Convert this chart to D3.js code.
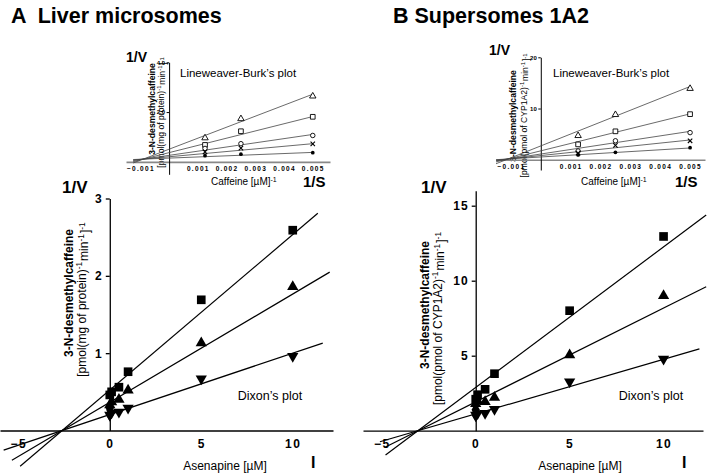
<!DOCTYPE html>
<html><head><meta charset="utf-8">
<script src="https://cdn.jsdelivr.net/npm/d3@7"></script>
<style>
body{margin:0;background:#fff;}
svg{display:block;font-family:"Liberation Sans",Arial,sans-serif;}
</style></head><body>
<svg id="c" width="709" height="476"></svg>
<script>
// ---------- DATA ----------
const panelTitles = ["A  Liver microsomes", "B Supersomes 1A2"];
// Dixon plot (main) : asenapine concentrations
const dixonX = [0, 0.1, 0.5, 1, 5, 10];
const dixonA_square = [0.46, 0.50, 0.56, 0.76, 1.69, 2.59];
const dixonA_triangle = [0.33, 0.37, 0.40, 0.52, 1.13, 1.86];
const dixonA_down = [0.20, 0.23, 0.24, 0.29, 0.67, 0.96];
const dixonA_diamondX = [0, 0];
const dixonA_diamond = [0.29, 0.21];
const dixonB_square = [2.1, 2.4, 2.76, 3.8, 8.0, 12.95];
const dixonB_triangle = [1.8, 2.0, 1.93, 2.22, 5.05, 9.0];
const dixonB_down = [1.05, 1.15, 1.16, 1.43, 3.27, 4.78];
const dixonB_diamondX = [0, 0];
const dixonB_diamond = [1.4, 1.05];
// fitted Dixon lines: [slope, intercept, xStart, xEnd] for square, triangle, down-triangle
const dixonA_lines = [[0.201, 0.523, -4.9, 11.37], [0.140, 0.365, -5.35, 12.02], [0.0794, 0.206, -5.8, 11.64]];
const dixonB_lines = [[0.9375, 2.88, -4.8, 12.27], [0.626, 1.92, -4.8, 12.27], [0.364, 1.12, -5.1, 11.91]];
const dixonXTicks = [-5, 0, 5, 10];
const dixonA_YTicks = [1, 2, 3];
const dixonB_YTicks = [5, 10, 15];

// Lineweaver-Burk (insets) : 1/[caffeine]
const lbX = [0.00125, 0.0025, 0.005];
const lbA_triangle = [0.96, 1.73, 2.64];
const lbA_square = [0.68, 1.23, 1.81];
const lbA_circle = [0.54, 0.73, 1.06];
const lbA_cross = [0.40, 0.55, 0.72];
const lbA_dot = [0.25, 0.31, 0.37];
const lbB_triangle = [4.7, 8.8, 13.9];
const lbB_square = [3.0, 5.55, 8.9];
const lbB_circle = [1.7, 3.7, 5.3];
const lbB_cross = [1.3, 2.8, 3.7];
const lbB_dot = [0.95, 1.45, 2.35];
// fitted LB lines: [slope, intercept] in order triangle, square, circle, cross, dot
const lbA_lines = [[442, 0.508], [290, 0.371], [168, 0.261], [105, 0.205], [45.8, 0.151]];
const lbB_lines = [[2320, 2.70], [1444, 1.74], [885, 1.12], [608, 0.82], [352, 0.54]];
const lbA_lineRange = [-0.00125, 0.005];
const lbB_lineRange = [-0.0015, 0.005];
const lbXTicks = [-0.001, 0.001, 0.002, 0.003, 0.004, 0.005];
const lbA_YTicks = [2, 4];
const lbB_YTicks = [10, 20];

// ---------- DRAW ----------
const svg = d3.select("#c");

function supText(sel, parts){
  parts.forEach(p=>{
    if(p[1]){
      sel.append("tspan").attr("dy","-0.45em").attr("font-size","0.7em").text(p[0]);
      sel.append("tspan").attr("dy","0.45em").attr("font-size","1em").text("\u200a");
    } else sel.append("tspan").text(p[0]);
  });
}

svg.append("text").attr("x",11).attr("y",23).attr("font-size",21.5).attr("font-weight","bold").style("white-space","pre").text(panelTitles[0]);
svg.append("text").attr("x",393).attr("y",23).attr("font-size",21.5).attr("font-weight","bold").text(panelTitles[1]);

function sym(g, type, x, y, size, filled){
  const map = {square:d3.symbolSquare, triangle:d3.symbolTriangle, down:d3.symbolTriangle, diamond:d3.symbolDiamond, circle:d3.symbolCircle};
  if(type==="cross"){
    const h=size;
    g.append("path").attr("d",`M${x-h},${y-h}L${x+h},${y+h}M${x-h},${y+h}L${x+h},${y-h}`).attr("stroke","#000").attr("stroke-width",1.1).attr("fill","none");
    return;
  }
  const p = g.append("path").attr("d", d3.symbol(map[type], size)())
    .attr("transform", `translate(${x},${y})` + (type==="down"?" rotate(180)":""));
  if(filled) p.attr("fill","#000");
  else p.attr("fill","#fff").attr("stroke","#000").attr("stroke-width",0.9);
}

function dixon(cfg){
  const g = svg.append("g");
  const x = d3.scaleLinear().domain([-6, cfg.xMax]).range(cfg.xr);
  const y = d3.scaleLinear().domain([0, cfg.yTop]).range(cfg.yr);
  // x axis
  const xa = g.append("g").attr("transform",`translate(0,${y(0)})`)
    .call(d3.axisBottom(x).tickValues(dixonXTicks).tickSize(0).tickPadding(9).tickSizeOuter(0).tickFormat(d3.format("d")));
  xa.select(".domain").attr("stroke-width",1.3);
  xa.selectAll("text").attr("font-size",12).attr("font-weight","bold").attr("letter-spacing",1.5).attr("font-family","Liberation Sans, Arial");
  // y axis
  const ya = g.append("g").attr("transform",`translate(${x(0)},0)`)
    .call(d3.axisLeft(y).tickValues(cfg.yTicks).tickSize(4).tickPadding(3).tickSizeOuter(0).tickFormat(d3.format("d")));
  ya.select(".domain").attr("stroke-width",1.3);
  ya.selectAll("line").attr("stroke-width",1.3);
  ya.selectAll("text").attr("font-size",12).attr("font-weight","bold").attr("letter-spacing",1).attr("font-family","Liberation Sans, Arial");
  // lines
  cfg.lines.forEach(l=>{
    g.append("line").attr("x1",x(l[2])).attr("y1",y(l[0]*l[2]+l[1]))
      .attr("x2",x(l[3])).attr("y2",y(l[0]*l[3]+l[1])).attr("stroke","#000").attr("stroke-width",1.2);
  });
  // points
  cfg.series.forEach(s=>{
    s.ys.forEach((v,i)=> sym(g, s.type, x(s.xs[i]), y(v), s.size, true));
  });
  // labels
  g.append("text").attr("x",cfg.vLab[0]).attr("y",cfg.vLab[1]).attr("font-size",17).attr("font-weight","bold").text("1/V");
  g.append("text").attr("x",cfg.iLab[0]).attr("y",cfg.iLab[1]).attr("font-size",16).attr("font-weight","bold").text("I");
  g.append("text").attr("x",cfg.xTitle[0]).attr("y",cfg.xTitle[1]).attr("text-anchor","middle").attr("font-size",12).text("Asenapine [\u00b5M]");
  g.append("text").attr("x",cfg.dixonLab[0]).attr("y",cfg.dixonLab[1]).attr("text-anchor","middle").attr("font-size",12.5).text("Dixon\u2019s plot");
  g.append("text").attr("transform",`translate(${cfg.yT1[0]},${cfg.yT1[1]}) rotate(-90)`).attr("text-anchor","middle").attr("font-size",12).attr("font-weight","bold").text("3-N-desmethylcaffeine");
  const t2 = g.append("text").attr("transform",`translate(${cfg.yT2[0]},${cfg.yT2[1]}) rotate(-90)`).attr("text-anchor","middle").attr("font-size",12);
  supText(t2, cfg.yT2parts);
}

dixon({xMax:12.2, xr:[0,333], yTop:3, yr:[430.5,198.5], yTicks:dixonA_YTicks, lines:dixonA_lines,
  series:[{type:"diamond",xs:dixonA_diamondX,ys:dixonA_diamond,size:60},{type:"down",xs:dixonX,ys:dixonA_down,size:55},{type:"triangle",xs:dixonX,ys:dixonA_triangle,size:55},{type:"square",xs:dixonX,ys:dixonA_square,size:75}],
  vLab:[62,193], iLab:[311,468], xTitle:[225,470], dixonLab:[270,400], yT1:[72.5,293], yT2:[86,299],
  yT2parts:[["[pmol(mg of protein)",0],["-1",1],["min",0],["-1",1],["]",0],["-1",1]]});

dixon({xMax:12.1, xr:[363,703], yTop:16, yr:[430.7,190.7], yTicks:dixonB_YTicks, lines:dixonB_lines,
  series:[{type:"diamond",xs:dixonB_diamondX,ys:dixonB_diamond,size:60},{type:"down",xs:dixonX,ys:dixonB_down,size:55},{type:"triangle",xs:dixonX,ys:dixonB_triangle,size:55},{type:"square",xs:dixonX,ys:dixonB_square,size:75}],
  vLab:[421,193], iLab:[682,468], xTitle:[580,470], dixonLab:[651,400], yT1:[429,305], yT2:[442,318],
  yT2parts:[["[pmol(pmol of CYP1A2)",0],["-1",1],["min",0],["-1",1],["]",0],["-1",1]]});

function lb(cfg){
  const g = svg.append("g");
  const x = d3.scaleLinear().domain(cfg.xd).range(cfg.xr);
  const y = d3.scaleLinear().domain(cfg.yd).range(cfg.yr);
  g.append("text").attr("transform",`translate(${cfg.yT1[0]},${cfg.yT1[1]}) rotate(-90)`).attr("text-anchor","middle").attr("font-size",8.6).attr("font-weight","bold").text("3-N-desmethylcaffeine");
  const t2 = g.append("text").attr("transform",`translate(${cfg.yT2[0]},${cfg.yT2[1]}) rotate(-90)`).attr("text-anchor","middle").attr("font-size",8.6);
  supText(t2, cfg.yT2parts);
  const xa = g.append("g").attr("transform",`translate(0,${y(0)})`)
    .call(d3.axisBottom(x).tickValues(lbXTicks).tickSize(0).tickPadding(5).tickSizeOuter(0).tickFormat(d3.format(".3f")));
  xa.select(".domain").attr("stroke","#888").attr("stroke-width",1.6);
  xa.selectAll("text").attr("font-size",6.5).attr("font-weight","bold").attr("letter-spacing",1.3).attr("font-family","Liberation Sans, Arial");
  const ya = g.append("g").attr("transform",`translate(${x(0)},0)`)
    .call(d3.axisLeft(y).tickValues(cfg.yTicks).tickSize(2.5).tickPadding(1.5).tickSizeOuter(0));
  ya.select(".domain").attr("stroke-width",1);
  ya.selectAll("text").attr("font-size",6).attr("font-weight","bold").attr("font-family","Liberation Sans, Arial");
  cfg.lines.forEach(l=>{
    g.append("line").attr("x1",x(cfg.lr[0])).attr("y1",y(l[0]*cfg.lr[0]+l[1]))
      .attr("x2",x(cfg.lr[1])).attr("y2",y(l[0]*cfg.lr[1]+l[1])).attr("stroke","#444").attr("stroke-width",0.8);
  });
  const types = [["triangle",18,false],["square",22,false],["circle",16,false],["cross",2.2,false],["circle",11,true]];
  cfg.series.forEach((s,k)=>{
    s.forEach((v,i)=> sym(g, types[k][0], x(lbX[i]), y(v), types[k][1], types[k][2]));
  });
  g.append("text").attr("x",cfg.vLab[0]).attr("y",cfg.vLab[1]).attr("font-size",14).attr("font-weight","bold").text("1/V");
  g.append("text").attr("x",cfg.sLab[0]).attr("y",cfg.sLab[1]).attr("font-size",15).attr("font-weight","bold").text("1/S");
  g.append("text").attr("x",cfg.lbLab[0]).attr("y",cfg.lbLab[1]).attr("font-size",11.5).text("Lineweaver-Burk\u2019s plot");
  const ct = g.append("text").attr("x",cfg.cLab[0]).attr("y",cfg.cLab[1]).attr("font-size",10);
  supText(ct, [["Caffeine [\u00b5M]",0],["-1",1]]);
}

lb({xd:[-0.0015,0.0056], xr:[126,330], yd:[-0.5,4], yr:[174.3,62.3], yTicks:lbA_YTicks, lines:lbA_lines, lr:lbA_lineRange,
  series:[lbA_triangle,lbA_square,lbA_circle,lbA_cross,lbA_dot],
  vLab:[126,62], sLab:[303,187], lbLab:[180,77], cLab:[211,185], yT1:[155,109], yT2:[164,112],
  yT2parts:[["[pmol(mg of protein)",0],["-1",1],["min",0],["-1",1],["]",0],["-1",1]]});

lb({xd:[-0.0015,0.0055], xr:[496,705], yd:[-2,20], yr:[170,57.3], yTicks:lbB_YTicks, lines:lbB_lines, lr:lbB_lineRange,
  series:[lbB_triangle,lbB_square,lbB_circle,lbB_cross,lbB_dot],
  vLab:[489,55], sLab:[675,187], lbLab:[553,77], cLab:[581,185], yT1:[516,116], yT2:[527,115],
  yT2parts:[["[pmol(pmol of CYP1A2)",0],["-1",1],["min",0],["-1",1],["]",0],["-1",1]]});
</script>
</body></html>
